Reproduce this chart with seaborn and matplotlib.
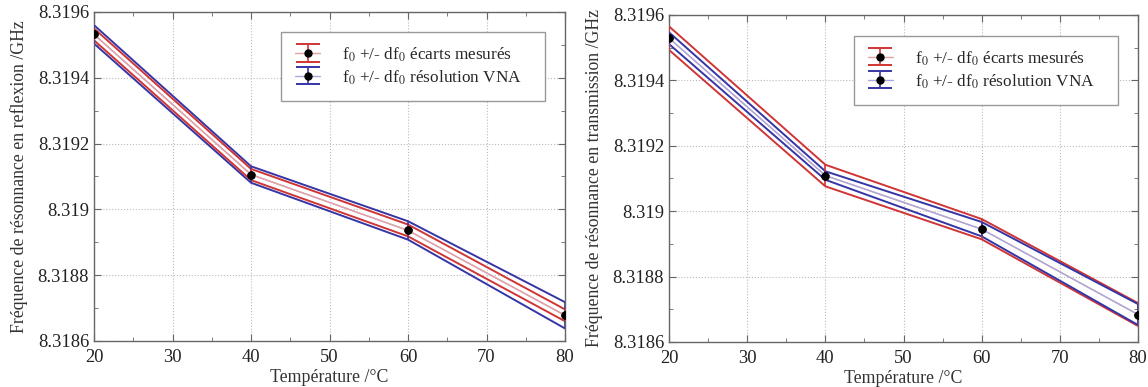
import numpy as np
import matplotlib
matplotlib.use("Agg")
import matplotlib.pyplot as plt
from matplotlib.ticker import AutoMinorLocator, FuncFormatter
import seaborn as sns

# ======================
# DATA
# ======================
temp = [20, 40, 60, 80]

# reflexion
f_refl = [8.319532, 8.319106, 8.318936, 8.318678]
df_refl_mes = [0.000018, 0.000017, 0.000018, 0.000018]
df_refl_vna = [0.000028, 0.000025, 0.000028, 0.000040]

# transmission
f_trans = [8.319529, 8.319109, 8.318945, 8.318684]
df_trans_mes = [0.000036, 0.000033, 0.000031, 0.000035]
df_trans_vna = [0.000018, 0.000013, 0.000022, 0.000032]

y_ticks = [8.3186, 8.3188, 8.319, 8.3192, 8.3194, 8.3196]
x_ticks = [20, 30, 40, 50, 60, 70, 80]

# trailing spaces widen the legend box on the right like the original
lab_mes = "f$_0$ +/- df$_0$ écarts mesurés   "
lab_vna = "f$_0$ +/- df$_0$ résolution VNA   "

RED, RED_L = "#cf3535", "#e8a0a0"
BLUE, BLUE_L = "#3535a6", "#a9a9dc"

# ======================
# STYLE
# ======================
sns.set_style("ticks")
plt.rcParams["font.family"] = ["Liberation Serif", "DejaVu Serif"]
plt.rcParams["mathtext.fontset"] = "stix"
plt.rcParams["xtick.direction"] = "in"
plt.rcParams["ytick.direction"] = "in"
plt.rcParams["axes.edgecolor"] = "#666666"
plt.rcParams["xtick.color"] = "#666666"
plt.rcParams["ytick.color"] = "#666666"
plt.rcParams["xtick.labelcolor"] = "#222222"
plt.rcParams["ytick.labelcolor"] = "#222222"

fig = plt.figure(figsize=(11.48, 3.87), dpi=100)
ax1 = fig.add_axes([0.0819, 0.1189, 0.4103, 0.8501])
ax2 = fig.add_axes([0.5828, 0.1163, 0.4085, 0.8450])


def band(ax, f, d, col, col_l, label):
    f = np.array(f)
    d = np.array(d)
    sns.lineplot(x=temp, y=f + d, color=col, lw=1.4, ax=ax, legend=False)
    sns.lineplot(x=temp, y=f - d, color=col, lw=1.4, ax=ax, legend=False)
    ax.errorbar(temp, f, yerr=d, color=col_l, ecolor=col, lw=1.0,
                elinewidth=1.2, capsize=0, marker="o", ms=5,
                mfc="black", mec="black", zorder=5)
    # proxy only for the legend look (with caps)
    return ax.errorbar([np.nan], [np.nan], yerr=[np.nan], color=col_l,
                       ecolor=col, lw=1.0, elinewidth=1.2, capsize=8.5,
                       capthick=1.4, marker="o", ms=5, mfc="black",
                       mec="black", label=label)


def finish(ax, ylabel, anchor, handles):
    ax.set_xlim(20, 80)
    ax.set_ylim(8.3186, 8.3196)
    ax.set_xticks(x_ticks)
    ax.set_yticks(y_ticks)
    ax.yaxis.set_major_formatter(
        FuncFormatter(lambda v, _: f"{v:.4f}".rstrip("0").rstrip(".")))
    ax.xaxis.set_minor_locator(AutoMinorLocator(2))
    ax.yaxis.set_minor_locator(AutoMinorLocator(2))
    ax.tick_params(which="both", top=True, right=True, labelsize=13.3)
    ax.tick_params(axis="x", pad=6)
    ax.tick_params(which="major", length=5)
    ax.tick_params(which="minor", length=3)
    ax.grid(True, ls=":", color="#bbbbbb", lw=0.8)
    for s in ax.spines.values():
        s.set_linewidth(1.0)
    ax.set_xlabel("Température /°C", fontsize=12.8, labelpad=2, color="#333333")
    ax.set_ylabel(ylabel, fontsize=12.8, labelpad=7, color="#333333")
    leg = ax.legend(handles=handles, loc="upper right", bbox_to_anchor=anchor,
                    borderaxespad=0, fontsize=12.4, fancybox=False,
                    edgecolor="#999999", framealpha=1, handlelength=1.45,
                    handleheight=1.0, borderpad=0.8, handletextpad=1.3,
                    labelspacing=0.25)
    leg.get_frame().set_linewidth(1.0)


h_vna = band(ax1, f_refl, df_refl_vna, BLUE, BLUE_L, lab_vna)
h_mes = band(ax1, f_refl, df_refl_mes, RED, RED_L, lab_mes)
finish(ax1, "Fréquence de résonnance en reflexion /GHz", (0.9575, 0.939),
       [h_mes, h_vna])

h_mes = band(ax2, f_trans, df_trans_mes, RED, RED_L, lab_mes)
h_vna = band(ax2, f_trans, df_trans_vna, BLUE, BLUE_L, lab_vna)
finish(ax2, "Fréquence de résonnance en transmission /GHz", (0.957, 0.936),
       [h_mes, h_vna])

fig.savefig("out.png", dpi=100)
